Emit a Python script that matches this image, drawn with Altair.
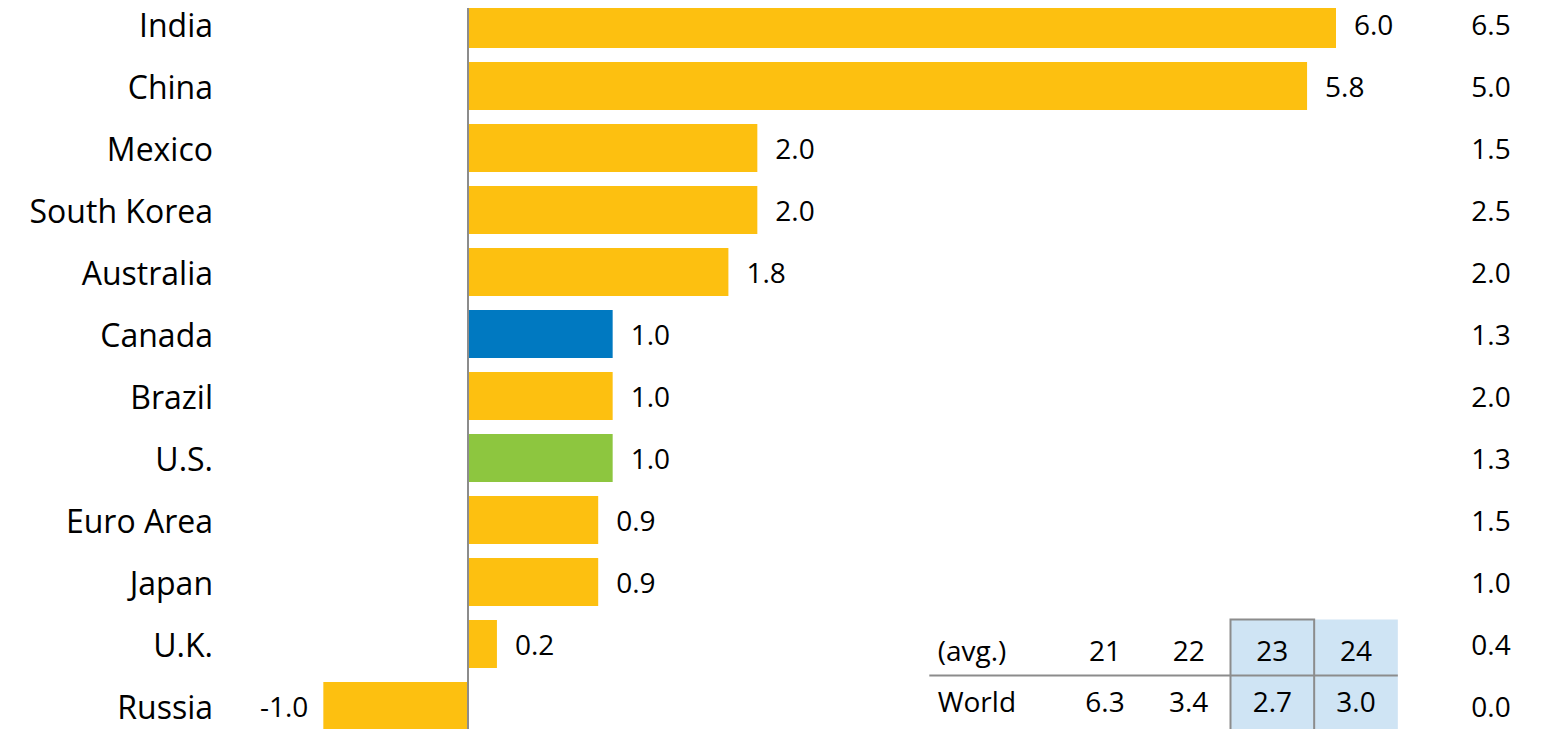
import altair as alt
import pandas as pd

# ---------------- data ----------------
countries = ["India", "China", "Mexico", "South Korea", "Australia", "Canada",
             "Brazil", "U.S.", "Euro Area", "Japan", "U.K.", "Russia"]
growth_2023 = [6.0, 5.8, 2.0, 2.0, 1.8, 1.0, 1.0, 1.0, 0.9, 0.9, 0.2, -1.0]
growth_2024 = [6.5, 5.0, 1.5, 2.5, 2.0, 1.3, 2.0, 1.3, 1.5, 1.0, 0.4, 0.0]
highlighted = ["Canada", "U.S."]

table_header_label = "(avg.)"
table_row_label = "World"
table_years = ["21", "22", "23", "24"]
world_growth = [6.3, 3.4, 2.7, 3.0]
forecast_years = ["23", "24"]
boxed_year = "23"

# ---------------- styles ----------------
FONT = "Open Sans"
YELLOW = "#FDC010"
BLUE = "#0079C1"
GREEN = "#8DC63F"
LIGHT_BLUE = "#CFE4F4"
GRAY = "#8C8C8C"
W, H = 1552, 721
DY = 3

df = pd.DataFrame({"country": countries, "g23": growth_2023, "g24": growth_2024})
df["group"] = [c if c in highlighted else "Other" for c in countries]
df["lab23"] = [f"{v:.1f}" for v in growth_2023]
df["lab24"] = [f"{v:.1f}" for v in growth_2024]

x_scale = alt.Scale(domain=[0, 6], range=[460, 1328], nice=False, zero=False)
y_scale = alt.Scale(domain=countries, range=[-15, 729], paddingInner=0.226, paddingOuter=0.113)

Y = alt.Y("country:N", scale=y_scale, axis=None, sort=countries)

base = alt.Chart(df)

zero_rule = base.mark_rule(color=GRAY, strokeWidth=1.5).encode(
    x=alt.X(datum=0, scale=x_scale, axis=None),
    y=alt.value(0), y2=alt.value(H),
)

bars = base.mark_bar().encode(
    x=alt.X("g23:Q", scale=x_scale, axis=None),
    x2=alt.X2(datum=0),
    y=Y,
    color=alt.Color("group:N", scale=alt.Scale(domain=["Other", "Canada", "U.S."],
                                               range=[YELLOW, BLUE, GREEN]), legend=None),
)

country_labels = base.mark_text(align="right", baseline="middle", dy=DY, font=FONT,
                                fontSize=32, color="black").encode(
    x=alt.value(205), y=Y, text="country:N")

pos_labels = base.transform_filter("datum.g23 >= 0").mark_text(
    align="left", baseline="middle", dx=18, dy=DY, font=FONT, fontSize=28, color="black").encode(
    x=alt.X("g23:Q", scale=x_scale, axis=None), y=Y, text="lab23:N")

neg_labels = base.transform_filter("datum.g23 < 0").mark_text(
    align="right", baseline="middle", dx=-15, dy=DY, font=FONT, fontSize=28, color="black").encode(
    x=alt.X("g23:Q", scale=x_scale, axis=None), y=Y, text="lab23:N")

right_col = base.mark_text(align="center", baseline="middle", dy=DY, font=FONT,
                           fontSize=28, color="black").encode(
    x=alt.value(1483), y=Y, text="lab24:N")

main = alt.layer(bars, zero_rule, country_labels, pos_labels, neg_labels, right_col)

# ---------------- inset table ----------------
cells = []
for i, (yr, v) in enumerate(zip(table_years, world_growth)):
    cells.append({"col": i, "row": 0, "text": yr})
    cells.append({"col": i, "row": 1, "text": f"{v:.1f}"})
cells_df = pd.DataFrame(cells)
labels_df = pd.DataFrame({"col": [-2, -2], "row": [0, 1],
                          "text": [table_header_label, table_row_label]})
fc_df = pd.DataFrame({"year": forecast_years,
                      "col": [table_years.index(y) for y in forecast_years]})
box_df = pd.DataFrame({"year": [boxed_year], "col": [table_years.index(boxed_year)]})

tx = alt.Scale(domain=[0, 3], range=[1097, 1348], nice=False, zero=False)
ty = alt.Scale(domain=[0, 1], range=[642, 693], nice=False, zero=False)

fc_rects = alt.Chart(fc_df).transform_calculate(
    x0="datum.col - 0.5", x1="datum.col + 0.5").mark_rect(color=LIGHT_BLUE).encode(
    x=alt.X("x0:Q", scale=tx, axis=None), x2="x1:Q",
    y=alt.Y(datum=-0.6, scale=ty, axis=None), y2=alt.Y2(datum=1.6))

box = alt.Chart(box_df).transform_calculate(
    x0="datum.col - 0.5", x1="datum.col + 0.5").mark_rect(
    fillOpacity=0, stroke=GRAY, strokeWidth=2).encode(
    x=alt.X("x0:Q", scale=tx, axis=None), x2="x1:Q",
    y=alt.Y(datum=-0.6, scale=ty, axis=None), y2=alt.Y2(datum=1.6))

hrule = alt.Chart(labels_df.head(1)).mark_rule(color=GRAY, strokeWidth=2).encode(
    x=alt.X(datum=-2.1, scale=tx, axis=None), x2=alt.X2(datum=3.5),
    y=alt.Y(datum=0.5, scale=ty, axis=None))

cell_text = alt.Chart(cells_df).mark_text(align="center", baseline="middle", dy=DY,
                                          font=FONT, fontSize=28, color="black").encode(
    x=alt.X("col:Q", scale=tx, axis=None), y=alt.Y("row:Q", scale=ty, axis=None),
    text="text:N")

label_text = alt.Chart(labels_df).mark_text(align="left", baseline="middle", dy=DY,
                                            font=FONT, fontSize=28, color="black").encode(
    x=alt.X("col:Q", scale=tx, axis=None), y=alt.Y("row:Q", scale=ty, axis=None),
    text="text:N")

table = alt.layer(fc_rects, box, hrule, cell_text, label_text)

chart = alt.layer(main, table).resolve_scale(x="independent", y="independent").properties(
    width=W, height=H, padding=0, autosize=alt.AutoSizeParams(type="none")
).configure_view(stroke=None)

chart.save("out.html", embed_options={"renderer": "svg", "actions": False})
